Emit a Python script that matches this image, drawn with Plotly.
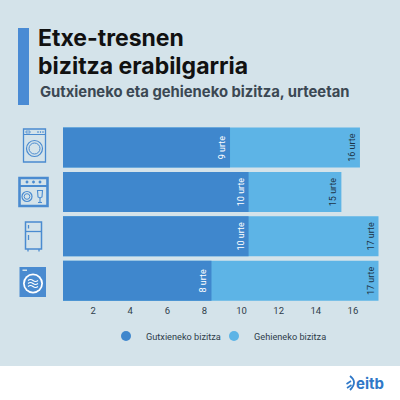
import plotly.graph_objects as go

# ---- data ----
appliances = ["Garbigailua", "Ontzi-garbigailua", "Hozkailua", "Lehorgailua"]
min_life = [9, 10, 10, 8]
max_life = [16, 15, 17, 17]
tick_values = [2, 4, 6, 8, 10, 12, 14, 16]
series_names = ["Gutxieneko bizitza", "Gehieneko bizitza"]

DARK = "#3f87cd"
LIGHT = "#5db4e6"
BG = "#d4e3ea"
ICON = "#4a8bd0"
TXT = "#2f3d4a"

W = H = 400

def px(x):
    return x / W

def py(y):
    return 1 - y / H

fig = go.Figure()

# max life (drawn first, behind)
fig.add_trace(go.Bar(
    y=appliances, x=max_life, orientation="h",
    marker=dict(color=LIGHT, line=dict(width=0)),
    text=[f"{v} urte" for v in max_life],
    textposition="inside", insidetextanchor="end", textangle=-90,
    textfont=dict(family="Roboto", size=9, color="#1d3547"),
    showlegend=False, hoverinfo="skip",
))
# min life (on top)
fig.add_trace(go.Bar(
    y=appliances, x=min_life, orientation="h",
    marker=dict(color=DARK, line=dict(width=0)),
    text=[f"{v} urte" for v in min_life],
    textposition="inside", insidetextanchor="end", textangle=-90,
    textfont=dict(family="Roboto", size=9, color="#ffffff"),
    showlegend=False, hoverinfo="skip",
))
# legend entries with circle markers (one legend box each)
for name, col, lg in zip(series_names, [DARK, LIGHT], ["legend", "legend2"]):
    fig.add_trace(go.Scatter(
        x=[None], y=[None], mode="markers", name=name, legend=lg,
        marker=dict(symbol="circle", size=10, color=col),
    ))

shapes = []
# light background panel
shapes.append(dict(type="rect", xref="paper", yref="paper", x0=0, x1=1,
                   y0=py(366), y1=1, fillcolor=BG, line=dict(width=0), layer="below"))
# title accent bar
shapes.append(dict(type="rect", xref="paper", yref="paper", x0=px(18), x1=px(29),
                   y0=py(105), y1=py(28), fillcolor="#4a8bd4", line=dict(width=0)))

def rect(x0, y0, x1, y1, lw=1.3, fill="rgba(0,0,0,0)", color=ICON):
    shapes.append(dict(type="rect", xref="paper", yref="paper",
                       x0=px(x0), x1=px(x1), y0=py(y1), y1=py(y0),
                       line=dict(color=color, width=lw), fillcolor=fill))

def circ(cx, cy, r, lw=1.3, fill="rgba(0,0,0,0)", color=ICON):
    shapes.append(dict(type="circle", xref="paper", yref="paper",
                       x0=px(cx - r), x1=px(cx + r), y0=py(cy + r), y1=py(cy - r),
                       line=dict(color=color, width=lw), fillcolor=fill))

def line(x0, y0, x1, y1, lw=1.3, color=ICON):
    shapes.append(dict(type="line", xref="paper", yref="paper",
                       x0=px(x0), x1=px(x1), y0=py(y0), y1=py(y1),
                       line=dict(color=color, width=lw)))

# icon 1: washing machine
rect(23.5, 129, 45.5, 162)
line(23.5, 134.5, 45.5, 134.5, lw=1)
rect(26, 131, 30, 133, lw=0.8)
for dx in (38, 40.5, 43):
    circ(dx, 132, 0.5, lw=0.6, fill=ICON)
circ(34.5, 148.5, 8, lw=1.2)
circ(34.5, 148.5, 5.5, lw=1)

# icon 2: dishwasher
rect(19.5, 178, 47.5, 206, lw=2.6)
line(19.5, 186, 47.5, 186, lw=2)
for dx in (27, 33.5, 40):
    circ(dx, 182, 1.2, lw=0.5, fill=ICON)
circ(27, 196.5, 5, lw=1.2)
circ(27, 196.5, 2.8, lw=1)
shapes.append(dict(type="path", xref="paper", yref="paper",
                   path=f"M {px(37.5)} {py(190.5)} L {px(42.5)} {py(190.5)} L {px(42)} {py(197)} "
                        f"L {px(40)} {py(198)} L {px(38)} {py(197)} Z",
                   line=dict(color=ICON, width=1.1)))
line(40, 198, 40, 202, lw=1.1)
line(38, 202.5, 42, 202.5, lw=1.1)

# icon 3: fridge
rect(25.5, 222, 41.5, 249, lw=1.5)
line(25.5, 231.5, 41.5, 231.5, lw=1.3)
line(28.5, 225, 28.5, 228.5, lw=1.3)
line(28.5, 235, 28.5, 240, lw=1.3)
line(28, 249, 28, 251.5, lw=1.3)
line(39, 249, 39, 251.5, lw=1.3)

# icon 4: dryer (filled)
rect(19.5, 267, 46, 297, lw=0, fill=ICON)
rect(22.5, 269.5, 27, 271, lw=0, fill="#d4e3ea")
circ(33, 283.5, 10, lw=0, fill="#ffffff")
circ(33, 283.5, 8.2, lw=0, fill=ICON)
for wy in (280.5, 283.5, 286.5):
    shapes.append(dict(type="path", xref="paper", yref="paper",
                       path=f"M {px(28)} {py(wy)} Q {px(30.5)} {py(wy-2)} {px(33)} {py(wy)} "
                            f"T {px(38)} {py(wy)}",
                       line=dict(color="#ffffff", width=1.1)))

# eitb logo mark
for k, (y0, y1) in enumerate([(384, 381), (388, 385)]):
    line(346.5 + k * 0.5, y0, 351 + k * 0.5, y1, lw=1.6, color="#2f78c8")
shapes.append(dict(type="path", xref="paper", yref="paper",
                   path=f"M {px(350)} {py(376)} Q {px(358)} {py(382)} {px(350)} {py(390)}",
                   line=dict(color="#2f78c8", width=1.8)))

annotations = [
    dict(text="<b>Etxe-tresnen</b>", xref="paper", yref="paper",
         x=px(36), y=py(38.5), xanchor="left", yanchor="middle", showarrow=False,
         font=dict(family="Inter", size=23, color="#111111")),
    dict(text="<b>bizitza erabilgarria</b>", xref="paper", yref="paper",
         x=px(36), y=py(66), xanchor="left", yanchor="middle", showarrow=False,
         font=dict(family="Inter", size=23, color="#111111")),
    dict(text="<b>Gutxieneko eta gehieneko bizitza, urteetan</b>", xref="paper", yref="paper",
         x=px(38), y=py(92.5), xanchor="left", yanchor="middle", showarrow=False,
         font=dict(family="Inter", size=14.8, color="#3b4853")),
    dict(text="<b>eitb</b>", xref="paper", yref="paper",
         x=px(354), y=py(383), xanchor="left", yanchor="middle", showarrow=False,
         font=dict(family="Inter", size=15, color="#2f78c8")),
]

leg_common = dict(orientation="h", yanchor="middle", xanchor="left", y=py(336),
                  bgcolor="rgba(0,0,0,0)", font=dict(family="Roboto", size=9.2, color=TXT),
                  itemwidth=30)

fig.update_layout(
    width=W, height=H,
    margin=dict(l=0, r=0, t=0, b=0),
    paper_bgcolor="#ffffff", plot_bgcolor="rgba(0,0,0,0)",
    barmode="overlay", bargap=0.1,
    shapes=shapes, annotations=annotations,
    xaxis=dict(domain=[px(63), px(385)], range=[0, 17.35],
               tickvals=tick_values, ticks="", showgrid=False, zeroline=False,
               showline=False, ticklabelshift=-7,
               tickfont=dict(family="Roboto", size=9.5, color=TXT)),
    yaxis=dict(domain=[py(303), py(125.3)], categoryorder="array",
               categoryarray=appliances[::-1], showticklabels=False,
               showgrid=False, zeroline=False, showline=False),
    legend=dict(x=px(106), **leg_common),
    legend2=dict(x=px(214), **leg_common),
    showlegend=True,
)

fig.write_html("out.html", config={"displayModeBar": False},
               post_script="document.body.style.margin='0';document.body.style.padding='0';")
